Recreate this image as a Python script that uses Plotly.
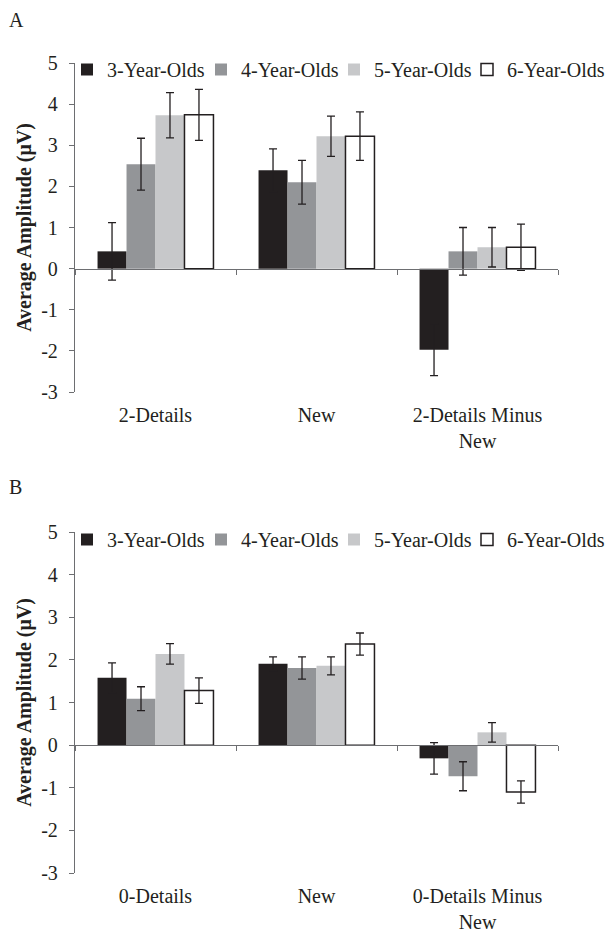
import plotly.graph_objects as go

# ---------------- data ----------------
groups = ["3-Year-Olds", "4-Year-Olds", "5-Year-Olds", "6-Year-Olds"]
categories_A = ["2-Details", "New", "2-Details Minus<br>New"]
categories_B = ["0-Details", "New", "0-Details Minus<br>New"]

a_3yo = [0.42, 2.39, -1.97]
a_4yo = [2.54, 2.10, 0.42]
a_5yo = [3.73, 3.22, 0.52]
a_6yo = [3.74, 3.22, 0.52]
a_3yo_err = [0.70, 0.52, 0.63]
a_4yo_err = [0.63, 0.53, 0.58]
a_5yo_err = [0.55, 0.49, 0.48]
a_6yo_err = [0.62, 0.59, 0.56]

b_3yo = [1.58, 1.91, -0.31]
b_4yo = [1.09, 1.81, -0.73]
b_5yo = [2.14, 1.86, 0.30]
b_6yo = [1.28, 2.37, -1.10]
b_3yo_err = [0.35, 0.16, 0.37]
b_4yo_err = [0.28, 0.26, 0.34]
b_5yo_err = [0.24, 0.21, 0.23]
b_6yo_err = [0.30, 0.26, 0.26]

y_ticks = [-3, -2, -1, 0, 1, 2, 3, 4, 5]
y_tick_text = ["-3", "-2", "-1", "0", "1", "2", "3", "4", "5"]
y_range = [-3, 5]

# ---------------- style ----------------
FONT = "Liberation Serif, Times New Roman, serif"
INK = "#231f20"
AXIS = "#6d6e71"
fills = ["#231f20", "#939598", "#c7c8ca", "#ffffff"]
outlines = ["#231f20", "#939598", "#c7c8ca", "#231f20"]
W, H = 607, 932
ML, MR = 75, 49
PW = W - ML - MR

# y domains (fractions of figure height; margins t=b=0)
domA = [1 - 392 / H, 1 - 63 / H]
domB = [1 - 873 / H, 1 - 532 / H]

# legend entry left edges (px) and top edges (px) per panel
legend_left_px = [67, 201, 334, 467]
legend_top_px = [50, 520]


def zero_pos(dom):
    return dom[0] + (dom[1] - dom[0]) * (0 - y_range[0]) / (y_range[1] - y_range[0])


def px_x(px):
    return (px - ML) / PW


fig = go.Figure()

panel_data = [
    ("x", "y", categories_A,
     [a_3yo, a_4yo, a_5yo, a_6yo], [a_3yo_err, a_4yo_err, a_5yo_err, a_6yo_err]),
    ("x2", "y2", categories_B,
     [b_3yo, b_4yo, b_5yo, b_6yo], [b_3yo_err, b_4yo_err, b_5yo_err, b_6yo_err]),
]

legend_layout = {}
for p, (xa, ya, cats, vals, errs) in enumerate(panel_data):
    for i, g in enumerate(groups):
        n = p * 4 + i + 1
        lname = "legend" if n == 1 else f"legend{n}"
        fig.add_trace(go.Bar(
            x=cats, y=vals[i], name=g, xaxis=xa, yaxis=ya, legend=lname,
            marker=dict(color=fills[i], line=dict(color=outlines[i], width=1.5 if i == 3 else 0)),
            error_y=dict(type="data", array=errs[i], visible=True,
                         color=INK, thickness=1.3, width=4),
        ))
        legend_layout[lname] = dict(
            orientation="h", xref="container", yref="container",
            x=legend_left_px[i] / W, y=1 - legend_top_px[p] / H,
            xanchor="left", yanchor="top",
            font=dict(family=FONT, size=20, color=INK),
            itemwidth=30, bgcolor="rgba(0,0,0,0)", borderwidth=0,
        )

common_y = dict(
    range=y_range, tickvals=y_ticks, ticktext=y_tick_text,
    showgrid=False, zeroline=False,
    showline=True, linecolor=AXIS, linewidth=1.3,
    ticks="outside", ticklen=5, tickcolor=AXIS, tickwidth=1.3,
    tickfont=dict(family=FONT, size=20, color=INK), ticklabelstandoff=7,
    title=dict(text="<b>Average Amplitude (μV)</b>",
               font=dict(family=FONT, size=20, color=INK), standoff=4),
)

common_xlabels = dict(
    type="category", showgrid=False, zeroline=False, showline=False,
    ticks="", tickfont=dict(family=FONT, size=20, color=INK),
    ticklabelstandoff=9, range=[-0.5, 2.5],
)

common_xzero = dict(
    type="linear", range=[-0.5, 2.5], tickvals=[-0.5, 0.5, 1.5, 2.5],
    showticklabels=False, showgrid=False, zeroline=False,
    showline=True, linecolor=AXIS, linewidth=1.3,
    ticks="outside", ticklen=5, tickcolor=AXIS, tickwidth=1.3,
    anchor="free", side="bottom",
)

fig.update_layout(
    width=W, height=H,
    margin=dict(l=ML, r=MR, t=0, b=0, autoexpand=False),
    paper_bgcolor="white", plot_bgcolor="white",
    barmode="group", bargap=0.28, bargroupgap=0,
    font=dict(family=FONT, color=INK),
    xaxis=dict(common_xlabels, anchor="y", domain=[0, 1]),
    yaxis=dict(common_y, anchor="x", domain=domA),
    xaxis2=dict(common_xlabels, anchor="y2", domain=[0, 1]),
    yaxis2=dict(common_y, anchor="x2", domain=domB),
    xaxis3=dict(common_xzero, overlaying="x", position=zero_pos(domA)),
    xaxis4=dict(common_xzero, overlaying="x2", position=zero_pos(domB)),
    annotations=[
        dict(text="A", xref="paper", yref="paper", x=px_x(7), y=1 - 20 / H,
             xanchor="left", yanchor="middle", showarrow=False,
             font=dict(family=FONT, size=20, color=INK)),
        dict(text="B", xref="paper", yref="paper", x=px_x(7), y=1 - 487 / H,
             xanchor="left", yanchor="middle", showarrow=False,
             font=dict(family=FONT, size=20, color=INK)),
    ],
    **legend_layout,
)

# invisible scatter on the overlay axes so the zero-line axes render
fig.add_trace(go.Scatter(x=[0], y=[None], xaxis="x3", yaxis="y", showlegend=False,
                         hoverinfo="skip", mode="markers"))
fig.add_trace(go.Scatter(x=[0], y=[None], xaxis="x4", yaxis="y2", showlegend=False,
                         hoverinfo="skip", mode="markers"))

fig.write_html("out.html", config={"displayModeBar": False},
               post_script="document.body.style.margin='0';document.body.style.overflow='hidden';")
